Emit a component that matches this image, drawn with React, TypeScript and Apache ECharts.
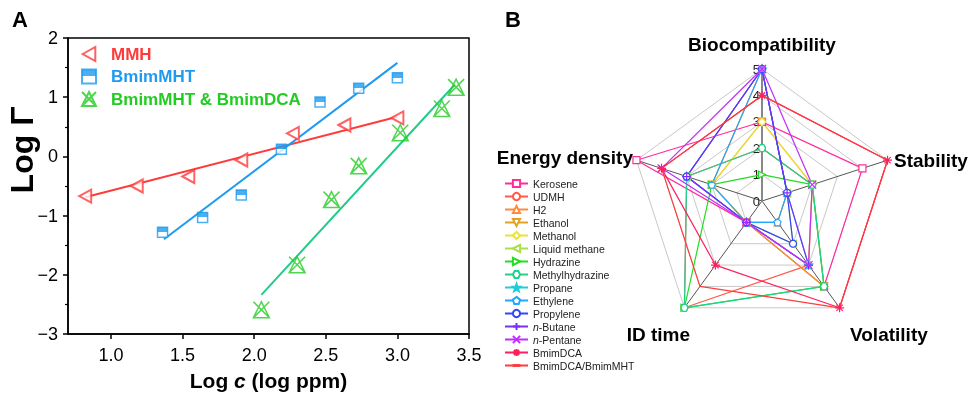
import React, { useEffect, useRef } from 'react';
import * as echarts from 'echarts';

const FONT = 'Arial, "Liberation Sans", Helvetica, sans-serif';

// ---------- Panel A data ----------
const mmhX = [0.82, 1.18, 1.54, 1.91, 2.27, 2.63, 3.0];
const mmhY = [-0.67, -0.5, -0.34, -0.06, 0.39, 0.53, 0.65];
const mmhFit = [[0.82, -0.69], [3.0, 0.67]];

const mhtX = [1.36, 1.64, 1.91, 2.19, 2.46, 2.73, 3.0];
const mhtY = [-1.28, -1.03, -0.65, 0.12, 0.92, 1.15, 1.33];
const mhtFit = [[1.37, -1.4], [3.0, 1.58]];

const mixX = [2.05, 2.3, 2.54, 2.73, 3.02, 3.31, 3.41];
const mixY = [-2.59, -1.83, -0.73, -0.16, 0.4, 0.81, 1.17];
const mixFit = [[2.05, -2.34], [3.4, 1.21]];

const xTickValues = [1.0, 1.5, 2.0, 2.5, 3.0, 3.5];

// ---------- Panel B data ----------
const radarIndicators = ['Biocompatibility', 'Energy density', 'ID time', 'Volatility', 'Stability'];
const fuels = [
  'Kerosene', 'UDMH', 'H2', 'Ethanol', 'Methanol', 'Liquid methane', 'Hydrazine',
  'Methylhydrazine', 'Propane', 'Ethylene', 'Propylene', 'n-Butane', 'n-Pentane',
  'BmimDCA', 'BmimDCA/BmimMHT',
];
// values in radarIndicators order
const keroseneVals = [3, 5, 1, 4, 4];
const udmhVals = [2, 3, 5, 3, 2];
const h2Vals = [5, 2, 1, 1, 1];
const ethanolVals = [3, 2, 1, 4, 2];
const methanolVals = [3, 2, 1, 3, 2];
const liquidMethaneVals = [5, 3, 1, 2, 1];
const hydrazineVals = [1, 2, 5, 4, 2];
const methylhydrazineVals = [2, 3, 5, 4, 2];
const propaneVals = [5, 3, 1, 3, 1];
const ethyleneVals = [5, 2, 1, 1, 1];
const propyleneVals = [5, 3, 1, 2, 1];
const nButaneVals = [5, 3, 1, 3, 1];
const nPentaneVals = [5, 4, 1, 3, 2];
const bmimDcaVals = [4, 4, 3, 5, 5];
const bmimMixVals = [4, 4, 4, 5, 5];
const fuelValues = [
  keroseneVals, udmhVals, h2Vals, ethanolVals, methanolVals, liquidMethaneVals, hydrazineVals,
  methylhydrazineVals, propaneVals, ethyleneVals, propyleneVals, nButaneVals, nPentaneVals,
  bmimDcaVals, bmimMixVals,
];
const radarTicks = [0, 1, 2, 3, 4, 5];

// ---------- styles ----------
const STAR = 'path://M5,0L6.2,3.6L10,3.7L7,6.1L8.1,9.8L5,7.6L1.9,9.8L3,6.1L0,3.7L3.8,3.6Z';
const PENT = 'path://M5,0L10,3.7L8.1,9.6L1.9,9.6L0,3.7Z';
const HEX = 'path://M2.5,0L7.5,0L10,5L7.5,10L2.5,10L0,5Z';
const PLUS = 'path://M5,0L5,10M0,5L10,5';
const CROSS = 'path://M0,0L10,10M10,0L0,10';
const ASTER = 'path://M5,0L5,10M0,5L10,5M1.5,1.5L8.5,8.5M8.5,1.5L1.5,8.5';
const TRI_DOWN = 'path://M0,0L10,0L5,9Z';
const TRI_LEFT = 'path://M0,5L9,0L9,10Z';
const TRI_RIGHT = 'path://M9,5L0,0L0,10Z';
const DASH = 'path://M0,0L0,0M1,4.4L9,4.4L9,5.6L1,5.6ZM10,10L10,10';

const fuelStyles = [
  { color: '#ff2d9a', symbol: 'rect', fill: '#fff', size: 7 },
  { color: '#ff5a4a', symbol: 'circle', fill: '#fff', size: 7 },
  { color: '#ff8a3d', symbol: 'triangle', fill: '#fff', size: 7 },
  { color: '#e6a022', symbol: TRI_DOWN, fill: '#fff', size: 7 },
  { color: '#ece13a', symbol: 'diamond', fill: '#fff', size: 8 },
  { color: '#a8e04a', symbol: TRI_LEFT, fill: '#fff', size: 7 },
  { color: '#22dd22', symbol: TRI_RIGHT, fill: '#fff', size: 7 },
  { color: '#1fd38e', symbol: HEX, fill: '#fff', size: 7 },
  { color: '#22ccd6', symbol: STAR, fill: '#22ccd6', size: 8 },
  { color: '#1ea8ff', symbol: PENT, fill: '#fff', size: 7 },
  { color: '#3344ff', symbol: 'circle', fill: '#fff', size: 7 },
  { color: '#7b2cff', symbol: PLUS, fill: '#7b2cff', size: 9 },
  { color: '#c22cff', symbol: CROSS, fill: '#c22cff', size: 8 },
  { color: '#ff1f5f', symbol: ASTER, fill: '#ff1f5f', size: 9 },
  { color: '#ff3b3b', symbol: 'none', fill: '#ff3b3b', size: 7 },
];

const RED = '#ff3a3a';
const BLUE = '#1e9bf0';
const GREEN = '#22cc22';
const GREEN_FIT = '#22cc88';

const MIX_SYMBOL = 'path://M1,1L11,11M11,1L1,11M6,1L1,11L11,11Z';

export default function App() {
  const ref = useRef<HTMLDivElement>(null);

  useEffect(() => {
    if (!ref.current) return;
    const chart = echarts.init(ref.current, undefined, { renderer: 'svg' });

    const zip = (xs: number[], ys: number[]) => xs.map((x, i) => [x, ys[i]]);

    const legendLineSeries = fuels.map((name, i) => ({
      type: 'line',
      name,
      data: [],
      symbol: fuelStyles[i].symbol === 'none' ? DASH : fuelStyles[i].symbol,
      symbolSize: fuelStyles[i].size,
      lineStyle: { color: fuelStyles[i].color, width: 1.2 },
      itemStyle: { color: fuelStyles[i].fill, borderColor: fuelStyles[i].color, borderWidth: 1.2 },
    }));

    const radarSeries = fuels.map((name, i) => ({
      type: 'radar',
      name,
      radarIndex: 0,
      symbol: fuelStyles[i].symbol,
      symbolSize: fuelStyles[i].size,
      lineStyle: { color: fuelStyles[i].color, width: 1.2 },
      itemStyle: { color: fuelStyles[i].fill, borderColor: fuelStyles[i].color, borderWidth: 1.2 },
      data: [{ name, value: fuelValues[i] }],
    }));

    const halfSquare = new echarts.graphic.LinearGradient(0, 0, 0, 1, [
      { offset: 0, color: BLUE },
      { offset: 0.5, color: BLUE },
      { offset: 0.5, color: '#fff' },
      { offset: 1, color: '#fff' },
    ]);

    const txt = (text: string, x: number, y: number, align: string, font: string) => ({
      type: 'text', x, y,
      style: { text, font, fill: '#000', align, verticalAlign: 'middle', textAlign: align, textVerticalAlign: 'middle' },
    });

    const option: any = {
      animation: false,
      grid: {
        left: 68, right: 500, top: 38, bottom: 61,
        outerBoundsMode: 'none', containLabel: false,
        show: true, borderColor: '#000', borderWidth: 1.5,
      },
      xAxis: {
        type: 'value', min: 0.7, max: 3.5,
        axisLine: { onZero: false, lineStyle: { color: '#000', width: 1.5 } },
        axisTick: { customValues: xTickValues, length: 5, lineStyle: { color: '#000', width: 1.5 } },
        axisLabel: {
          customValues: xTickValues, fontSize: 18, color: '#000', fontFamily: FONT, margin: 12,
          formatter: (v: number) => v.toFixed(1),
        },
        splitLine: { show: false },
        name: '{b|Log }{i|c}{b| (log ppm)}',
        nameLocation: 'middle', nameGap: 36,
        nameTextStyle: {
          rich: {
            b: { fontSize: 21, fontWeight: 'bold', fontFamily: FONT, color: '#000' },
            i: { fontSize: 21, fontWeight: 'bold', fontStyle: 'italic', fontFamily: FONT, color: '#000' },
          },
        },
      },
      yAxis: {
        type: 'value', min: -3, max: 2, interval: 1,
        axisLine: { show: true, onZero: false, lineStyle: { color: '#000', width: 1.5 } },
        axisTick: { show: true, length: 5, lineStyle: { color: '#000', width: 1.5 } },
        minorTick: { show: true, splitNumber: 2, length: 3, lineStyle: { color: '#000', width: 1.2 } },
        axisLabel: {
          fontSize: 18, color: '#000', fontFamily: FONT, margin: 10,
          formatter: (v: number) => (v < 0 ? '\u2212' + Math.abs(v) : String(v)),
        },
        splitLine: { show: false },
      },
      radar: {
        center: [762, 201], radius: 132, startAngle: 90, shape: 'polygon', splitNumber: 5,
        indicator: radarIndicators.map((n) => ({ name: n, min: 0, max: 5 })),
        axisName: { show: false },
        axisLine: { lineStyle: { color: '#555', width: 1 } },
        splitLine: { lineStyle: { color: '#c8c8c8', width: 1 } },
        splitArea: { show: false },
      },
      polar: { center: [762, 201], radius: 132 },
      angleAxis: { show: false, startAngle: 90, min: 0, max: 360 },
      radiusAxis: {
        min: 0, max: 5, interval: 1, z: 1,
        axisLine: { show: true, lineStyle: { color: '#888', width: 2 } },
        axisTick: { show: false }, splitLine: { show: false },
        axisLabel: { fontSize: 13, color: '#222', fontFamily: FONT, margin: 2,
          formatter: (v: number) => (radarTicks.includes(v) ? String(v) : '') },
      },
      legend: [
        {
          orient: 'vertical', left: 81, top: 45, padding: 0, itemWidth: 14, itemHeight: 14, itemGap: 4.5,
          selectedMode: false,
          textStyle: { fontSize: 17, fontWeight: 'bold', fontFamily: FONT, lineHeight: 18, padding: [0, 0, 0, 10] },
          data: [
            { name: 'MMH', textStyle: { color: RED } },
            { name: 'BmimMHT', textStyle: { color: BLUE } },
            { name: 'BmimMHT & BmimDCA', textStyle: { color: GREEN } },
          ],
        },
        {
          orient: 'vertical', left: 504, top: 177, padding: 0, itemWidth: 23, itemHeight: 9, itemGap: 0,
          selectedMode: false,
          textStyle: {
            fontSize: 10.5, fontFamily: FONT, color: '#222', lineHeight: 13,
            rich: { i: { fontSize: 10.5, fontFamily: FONT, color: '#222', fontStyle: 'italic' },
                    r: { fontSize: 10.5, fontFamily: FONT, color: '#222' } },
          },
          formatter: (n: string) => (n.startsWith('n-') ? `{i|n}{r|-${n.slice(2)}}` : n),
          data: fuels,
        },
      ],
      graphic: [
        { type: 'text', left: 12, top: 8, style: { text: 'A', font: `bold 22px ${FONT}`, fill: '#000' } },
        { type: 'text', left: 505, top: 8, style: { text: 'B', font: `bold 22px ${FONT}`, fill: '#000' } },
        {
          type: 'text', x: 22, y: 150, rotation: Math.PI / 2,
          style: { text: 'Log Γ', font: `bold 32px ${FONT}`, fill: '#000', align: 'center', verticalAlign: 'middle', textAlign: 'center', textVerticalAlign: 'middle' },
        },
        txt('Biocompatibility', 762, 44, 'center', `bold 19px ${FONT}`),
        txt('Stability', 894, 160, 'left', `bold 19px ${FONT}`),
        txt('Volatility', 850, 334, 'left', `bold 19px ${FONT}`),
        txt('ID time', 690, 334, 'right', `bold 19px ${FONT}`),
        txt('Energy density', 633, 157, 'right', `bold 19px ${FONT}`),
      ],
      series: [
        ...legendLineSeries,
        { type: 'line', name: 'MMH fit', data: mmhFit, symbol: 'none', silent: true, lineStyle: { color: RED, width: 2 } },
        { type: 'line', name: 'BmimMHT fit', data: mhtFit, symbol: 'none', silent: true, lineStyle: { color: BLUE, width: 2 } },
        { type: 'line', name: 'Mix fit', data: mixFit, symbol: 'none', silent: true, lineStyle: { color: GREEN_FIT, width: 2 } },
        {
          type: 'scatter', name: 'MMH', data: zip(mmhX, mmhY), symbol: TRI_LEFT, symbolSize: [12, 13],
          itemStyle: { color: '#fff', borderColor: RED, borderWidth: 2 }, z: 5,
        },
        {
          type: 'scatter', name: 'BmimMHT', data: zip(mhtX, mhtY), symbol: 'rect', symbolSize: 10,
          itemStyle: { color: halfSquare, borderColor: BLUE, borderWidth: 1.5 }, z: 5,
        },
        {
          type: 'scatter', name: 'BmimMHT & BmimDCA', data: zip(mixX, mixY), symbol: MIX_SYMBOL, symbolSize: 16,
          itemStyle: { color: 'rgba(0,0,0,0)', borderColor: GREEN, borderWidth: 1.5 }, z: 5,
        },
        ...radarSeries,
      ],
    };

    chart.setOption(option);
    return () => chart.dispose();
  }, []);

  return <div ref={ref} style={{ position: 'fixed', left: 0, top: 0, width: 969, height: 395 }} />;
}
